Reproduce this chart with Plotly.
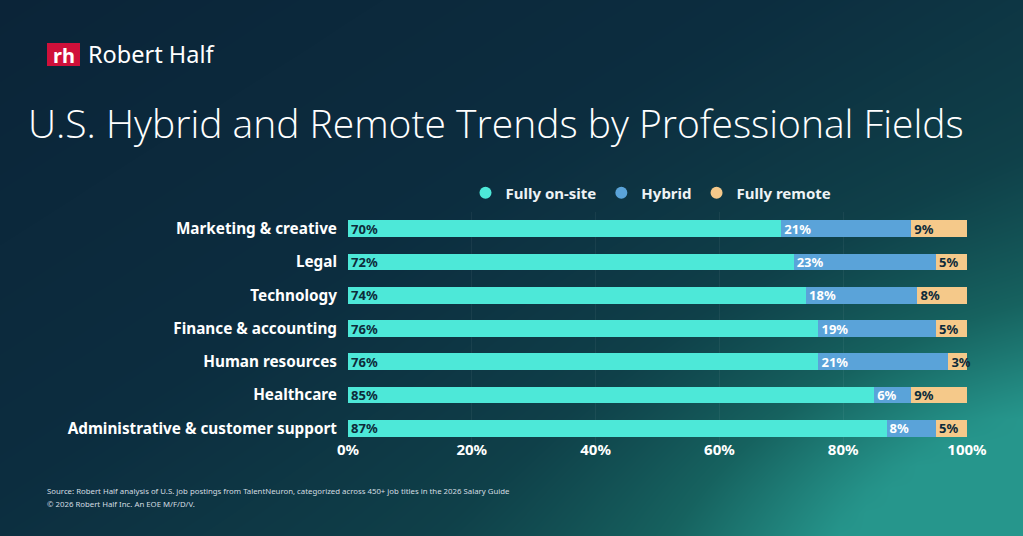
import numpy as np
import plotly.graph_objects as go

W, H = 1023, 536

categories = ["Marketing & creative", "Legal", "Technology", "Finance & accounting",
              "Human resources", "Healthcare", "Administrative & customer support"]
onsite = [70, 72, 74, 76, 76, 85, 87]
hybrid = [21, 23, 18, 19, 21, 6, 8]
remote = [9, 5, 8, 5, 3, 9, 5]
xticks = [0, 20, 40, 60, 80, 100]
xtick_labels = ["0%", "20%", "40%", "60%", "80%", "100%"]

C_ON, C_HY, C_RE = "#4de8d8", "#5aa3d9", "#f5c98a"
DARK = "#0d2b3a"
FONT = "Noto Sans"

fig = go.Figure()

# background gradient (decoration)
gx = np.linspace(0, 1, 40)
gy = np.linspace(0, 1, 24)  # 0 = bottom, 1 = top
X, Y = np.meshgrid(gx, gy)
Z = 0.55 * X + 0.45 * (1 - Y)
glow = np.exp(-(((X - 1.0) / 0.35) ** 2 + ((Y - 0.0) / 0.45) ** 2))
Z = np.clip(Z * 0.85 + 0.3 * glow, 0, 1)
fig.add_trace(go.Heatmap(
    x=gx, y=gy, z=Z, zmin=0, zmax=1, zsmooth="best", showscale=False, hoverinfo="skip",
    colorscale=[[0, "#0b2438"], [0.35, "#0c2d3f"], [0.6, "#0f4049"], [0.8, "#16625f"], [1, "#26968c"]],
    xaxis="x", yaxis="y"))

def bar(vals, color, tcolor, name):
    fig.add_trace(go.Bar(
        y=categories, x=vals, orientation="h", marker=dict(color=color, line=dict(width=0)),
        text=[f"{v}%" for v in vals], textposition="inside", insidetextanchor="start",
        textfont=dict(family=FONT, size=13, color=tcolor, weight="bold"),
        constraintext="none", showlegend=False, name=name, xaxis="x2", yaxis="y2",
        cliponaxis=False))

bar(onsite, C_ON, DARK, "Fully on-site")
bar(hybrid, C_HY, "white", "Hybrid")
bar(remote, C_RE, DARK, "Fully remote")

for name, col in [("Fully on-site", C_ON), ("Hybrid", C_HY), ("Fully remote", C_RE)]:
    fig.add_trace(go.Scatter(x=[None], y=[None], mode="markers", name=name,
                             marker=dict(symbol="circle", size=15, color=col),
                             xaxis="x2", yaxis="y2"))

fig.update_layout(
    width=W, height=H, margin=dict(l=0, r=0, t=0, b=0, autoexpand=False),
    paper_bgcolor="#0c2a3d", plot_bgcolor="rgba(0,0,0,0)",
    barmode="stack", bargap=0.5,
    uniformtext=dict(minsize=13, mode="show"),
    xaxis=dict(domain=[0, 1], range=[0, 1], visible=False, fixedrange=True, automargin=False),
    yaxis=dict(domain=[0, 1], range=[0, 1], visible=False, fixedrange=True, automargin=False),
    xaxis2=dict(domain=[348 / W, 967 / W], anchor="y2", range=[0, 100],
                tickvals=xticks, ticktext=xtick_labels, automargin=False,
                tickfont=dict(family=FONT, size=15, color="white", weight="bold"),
                showgrid=True, gridcolor="rgba(255,255,255,0.05)", zeroline=False,
                showline=False, ticks="", ticklabelstandoff=-6),
    yaxis2=dict(domain=[1 - 445 / H, 1 - 212 / H], anchor="x2", automargin=False,
                autorange="reversed", categoryorder="array", categoryarray=categories,
                tickfont=dict(family=FONT, size=15.3, color="white", weight="bold"),
                showgrid=False, zeroline=False, showline=False, ticks="",
                ticklabelstandoff=10),
    legend=dict(orientation="h", traceorder="normal", x=651 / W, xanchor="center",
                y=1 - 193 / H, yanchor="middle",
                font=dict(family=FONT, size=15, color="#eef3f5", weight="bold"),
                bgcolor="rgba(0,0,0,0)", itemsizing="constant"),
    font=dict(family=FONT, color="white"),
)

# Logo
fig.add_shape(type="rect", xref="paper", yref="paper",
              x0=47 / W, x1=80 / W, y0=1 - 66 / H, y1=1 - 43 / H,
              fillcolor="#d0103a", line=dict(width=0), layer="above")
fig.add_annotation(text="<b>rh</b>", xref="paper", yref="paper", x=63.5 / W, y=1 - 55 / H,
                   showarrow=False, font=dict(family=FONT, size=20, color="white"),
                   xanchor="center", yanchor="middle")
fig.add_annotation(text="Robert Half", xref="paper", yref="paper", x=86 / W, y=1 - 54 / H,
                   showarrow=False, font=dict(family=FONT, size=23.5, color="white"),
                   xanchor="left", yanchor="middle")

# Title
fig.add_annotation(text="U.S. Hybrid and Remote Trends by Professional Fields",
                   xref="paper", yref="paper", x=496 / W, y=1 - 122 / H, showarrow=False,
                   font=dict(family="Open Sans", size=39, color="white", weight=300),
                   xanchor="center", yanchor="middle")

# Footer
footer_lines = [
    "Source: Robert Half analysis of U.S. job postings from TalentNeuron, categorized across 450+ job titles in the 2026 Salary Guide",
    "© 2026 Robert Half Inc. An EOE M/F/D/V.",
]
for i, line in enumerate(footer_lines):
    fig.add_annotation(text=line, xref="paper", yref="paper", x=45 / W, y=1 - (491 + 13 * i) / H,
                       showarrow=False, align="left", xanchor="left", yanchor="middle",
                       font=dict(family=FONT, size=7.8, color="#d3dde1"))

fig.write_html("out.html")
